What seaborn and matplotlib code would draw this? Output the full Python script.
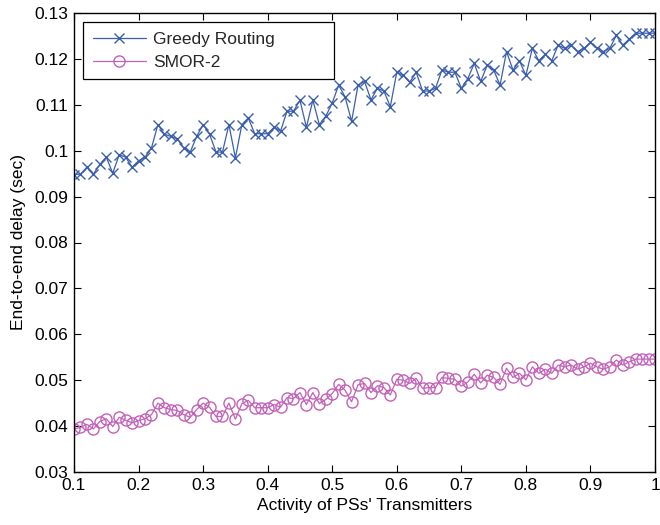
import numpy as np
import pandas as pd
import matplotlib
matplotlib.use("Agg")
import matplotlib.pyplot as plt
import seaborn as sns

# ---- data ----
activity = np.round(np.linspace(0.10, 1.00, 91), 2)

greedy_delay = [
    0.0948, 0.0949, 0.0964, 0.0949, 0.0970, 0.0986, 0.0951, 0.0991, 0.0986, 0.0964,
    0.0978, 0.0986, 0.1006, 0.1057, 0.1036, 0.1031, 0.1026, 0.1006, 0.0997, 0.1031,
    0.1057, 0.1036, 0.0997, 0.0997, 0.1057, 0.0984, 0.1057, 0.1071, 0.1037, 0.1037,
    0.1037, 0.1051, 0.1043, 0.1086, 0.1086, 0.1110, 0.1051, 0.1110, 0.1057, 0.1075,
    0.1104, 0.1143, 0.1117, 0.1064, 0.1143, 0.1151, 0.1111, 0.1136, 0.1130, 0.1096,
    0.1171, 0.1164, 0.1149, 0.1171, 0.1130, 0.1130, 0.1136, 0.1176, 0.1171, 0.1171,
    0.1136, 0.1157, 0.1190, 0.1151, 0.1186, 0.1176, 0.1143, 0.1216, 0.1176, 0.1196,
    0.1164, 0.1223, 0.1196, 0.1210, 0.1196, 0.1230, 0.1223, 0.1230, 0.1216, 0.1223,
    0.1236, 0.1223, 0.1216, 0.1223, 0.1251, 0.1230, 0.1243, 0.1256, 0.1256, 0.1256,
    0.1256,
]

smor_delay = [
    0.0394, 0.0397, 0.0404, 0.0394, 0.0410, 0.0416, 0.0399, 0.0419, 0.0413, 0.0407,
    0.0412, 0.0416, 0.0425, 0.0450, 0.0440, 0.0436, 0.0434, 0.0425, 0.0419, 0.0436,
    0.0450, 0.0441, 0.0421, 0.0421, 0.0450, 0.0415, 0.0449, 0.0456, 0.0440, 0.0440,
    0.0440, 0.0447, 0.0441, 0.0462, 0.0460, 0.0473, 0.0447, 0.0473, 0.0449, 0.0458,
    0.0471, 0.0491, 0.0478, 0.0453, 0.0490, 0.0493, 0.0473, 0.0488, 0.0484, 0.0468,
    0.0502, 0.0500, 0.0493, 0.0504, 0.0482, 0.0484, 0.0484, 0.0506, 0.0504, 0.0502,
    0.0487, 0.0496, 0.0513, 0.0494, 0.0511, 0.0506, 0.0491, 0.0526, 0.0506, 0.0515,
    0.0501, 0.0529, 0.0515, 0.0524, 0.0515, 0.0533, 0.0529, 0.0533, 0.0524, 0.0529,
    0.0537, 0.0529, 0.0524, 0.0529, 0.0544, 0.0533, 0.0540, 0.0546, 0.0546, 0.0546,
    0.0546,
]

series_names = ["Greedy Routing", "SMOR-2"]
x_ticks = [0.1, 0.2, 0.3, 0.4, 0.5, 0.6, 0.7, 0.8, 0.9, 1.0]
x_tick_labels = ["0.1", "0.2", "0.3", "0.4", "0.5", "0.6", "0.7", "0.8", "0.9", "1"]
y_ticks = [0.03, 0.04, 0.05, 0.06, 0.07, 0.08, 0.09, 0.10, 0.11, 0.12, 0.13]
y_tick_labels = ["0.03", "0.04", "0.05", "0.06", "0.07", "0.08", "0.09", "0.1", "0.11", "0.12", "0.13"]

# ---- styling ----
sns.set_theme(style="ticks")
plt.rcParams["font.family"] = ["Liberation Sans", "DejaVu Sans"]

FS = 12.5
BLUE = "#3b5fae"
MAGENTA = "#c261b8"

L, R, T, B = 74, 655, 13, 472
fig = plt.figure(figsize=(6.6, 5.25), dpi=100)
ax = fig.add_axes([L / 660, 1 - B / 525, (R - L) / 660, (B - T) / 525])

sns.lineplot(x=activity, y=greedy_delay, ax=ax, color=BLUE, linewidth=0.9,
             marker="x", markersize=6.5, markeredgewidth=1.0, markeredgecolor=BLUE,
             label=series_names[0])
sns.lineplot(x=activity, y=smor_delay, ax=ax, color=MAGENTA, linewidth=0.9,
             marker="o", markersize=8.0, markerfacecolor="none", markeredgewidth=1.0,
             markeredgecolor=MAGENTA, label=series_names[1])

ax.set_xlim(0.1, 1.0)
ax.set_ylim(0.03, 0.13)
ax.set_xticks(x_ticks)
ax.set_xticklabels(x_tick_labels, fontsize=FS)
ax.set_yticks(y_ticks)
ax.set_yticklabels(y_tick_labels, fontsize=FS)
ax.tick_params(direction="in", length=5, width=0.8, top=True, right=True,
               color="black", labelcolor="black", pad=4)
for s in ax.spines.values():
    s.set_visible(True)
    s.set_color("black")
    s.set_linewidth(1.0)

ax.set_xlabel("Activity of PSs' Transmitters", fontsize=FS, color="black", labelpad=4)
ax.set_ylabel("End-to-end delay (sec)", fontsize=FS, color="black", labelpad=6)

# legend box: reference spans about x 83..334 px, y 22..78 px
lx0 = (83 - L) / (R - L)
lx1 = (334 - L) / (R - L)
ly1 = (B - 22) / (B - T)
leg = ax.legend(loc="upper left", bbox_to_anchor=(lx0, ly1 - 0.2, lx1 - lx0, 0.2),
                mode="expand", borderaxespad=0.0,
                fontsize=FS, frameon=True, fancybox=False,
                edgecolor="black", framealpha=1, handlelength=3.1, handletextpad=0.4,
                borderpad=0.55, labelspacing=0.45)
leg.get_frame().set_linewidth(0.9)

fig.savefig("out.png", dpi=100)
